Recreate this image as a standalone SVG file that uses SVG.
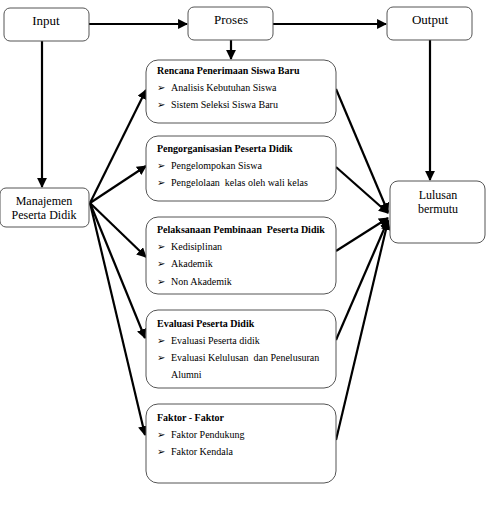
<svg xmlns="http://www.w3.org/2000/svg" width="486" height="506" viewBox="0 0 486 506">
<style>
.box{fill:#fff;stroke:#555;stroke-width:1}
text{font-family:"Liberation Serif","Times New Roman","DejaVu Serif",serif;fill:#000;white-space:pre}
.t{font-size:13px}
.m{font-size:12px}
.it{font-size:10px}
.b{font-size:10px;font-weight:bold}
.ln{stroke:#000;stroke-width:2.2;fill:none}
</style>
<defs>
<marker id="ah" viewBox="0 0 10 10" refX="9" refY="5" markerWidth="4.5" markerHeight="4.5" orient="auto" markerUnits="strokeWidth">
<path d="M0,0 L10,5 L0,10 z" fill="#000"/>
</marker>
</defs>
<rect width="486" height="506" fill="#fff"/>
<g id="connectors">
<line class="ln" x1="89" y1="24" x2="187" y2="24" marker-end="url(#ah)"/>
<line class="ln" x1="273" y1="24" x2="386" y2="24" marker-end="url(#ah)"/>
<line class="ln" x1="231" y1="40" x2="231" y2="59" marker-end="url(#ah)"/>
<line class="ln" x1="42" y1="41" x2="42" y2="187" marker-end="url(#ah)"/>
<line class="ln" x1="430" y1="40" x2="430" y2="180" marker-end="url(#ah)"/>
<line class="ln" x1="90" y1="203" x2="146" y2="90" marker-end="url(#ah)"/>
<line class="ln" x1="90" y1="203" x2="146" y2="166" marker-end="url(#ah)"/>
<line class="ln" x1="90" y1="203" x2="146" y2="257" marker-end="url(#ah)"/>
<line class="ln" x1="90" y1="203" x2="145" y2="338" marker-end="url(#ah)"/>
<line class="ln" x1="90" y1="203" x2="145" y2="435" marker-end="url(#ah)"/>
<line class="ln" x1="336" y1="89" x2="388" y2="212" marker-end="url(#ah)"/>
<line class="ln" x1="336" y1="167" x2="388" y2="213" marker-end="url(#ah)"/>
<line class="ln" x1="336" y1="251" x2="388" y2="218" marker-end="url(#ah)"/>
<line class="ln" x1="336" y1="340" x2="388" y2="220" marker-end="url(#ah)"/>
<line class="ln" x1="336" y1="440" x2="388" y2="221" marker-end="url(#ah)"/>
</g>
<g id="input"><rect class="box" x="4" y="8" width="85" height="33" rx="6"/><text class="t" x="46" y="25" text-anchor="middle">Input</text></g>
<g id="proses"><rect class="box" x="188" y="7" width="85" height="33" rx="6"/><text class="t" x="231" y="24" text-anchor="middle">Proses</text></g>
<g id="output"><rect class="box" x="387" y="7" width="85" height="33" rx="6"/><text class="t" x="430" y="24" text-anchor="middle">Output</text></g>
<g id="manajemen"><rect class="box" x="0" y="188" width="89" height="39" rx="6"/><text class="m" x="44" y="205" text-anchor="middle">Manajemen</text><text class="m" x="44" y="219" text-anchor="middle">Peserta Didik</text></g>
<g id="lulusan"><rect class="box" x="390" y="181" width="95" height="62" rx="8"/><text class="m" x="438" y="199" text-anchor="middle">Lulusan</text><text class="m" x="438" y="213" text-anchor="middle">bermutu</text></g>
<g id="rencana"><rect class="box" x="146" y="60" width="190" height="63" rx="12"/>
<text class="b" x="157" y="74">Rencana Penerimaan Siswa Baru</text>
<text class="it" x="157" y="91">➢</text><text class="it" x="171" y="91">Analisis Kebutuhan Siswa</text>
<text class="it" x="157" y="108">➢</text><text class="it" x="171" y="108">Sistem Seleksi Siswa Baru</text></g>
<g id="pengorganisasian"><rect class="box" x="146" y="136" width="190" height="65" rx="12"/>
<text class="b" x="157" y="152">Pengorganisasian Peserta Didik</text>
<text class="it" x="157" y="169">➢</text><text class="it" x="171" y="169">Pengelompokan Siswa</text>
<text class="it" x="157" y="186">➢</text><text class="it" x="171" y="186">Pengelolaan  kelas oleh wali kelas</text></g>
<g id="pelaksanaan"><rect class="box" x="146" y="217" width="190" height="77" rx="12"/>
<text class="b" x="157" y="233">Pelaksanaan Pembinaan  Peserta Didik</text>
<text class="it" x="157" y="250">➢</text><text class="it" x="171" y="250">Kedisiplinan</text>
<text class="it" x="157" y="267">➢</text><text class="it" x="171" y="267">Akademik</text>
<text class="it" x="157" y="285">➢</text><text class="it" x="171" y="285">Non Akademik</text></g>
<g id="evaluasi"><rect class="box" x="146" y="310" width="190" height="78" rx="12"/>
<text class="b" x="157" y="327">Evaluasi Peserta Didik</text>
<text class="it" x="157" y="344">➢</text><text class="it" x="171" y="344">Evaluasi Peserta didik</text>
<text class="it" x="157" y="361">➢</text><text class="it" x="171" y="361">Evaluasi Kelulusan  dan Penelusuran</text>
<text class="it" x="171" y="378">Alumni</text></g>
<g id="faktor"><rect class="box" x="146" y="404" width="190" height="79" rx="12"/>
<text class="b" x="157" y="421">Faktor - Faktor</text>
<text class="it" x="157" y="438">➢</text><text class="it" x="171" y="438">Faktor Pendukung</text>
<text class="it" x="157" y="455">➢</text><text class="it" x="171" y="455">Faktor Kendala</text></g>
</svg>
